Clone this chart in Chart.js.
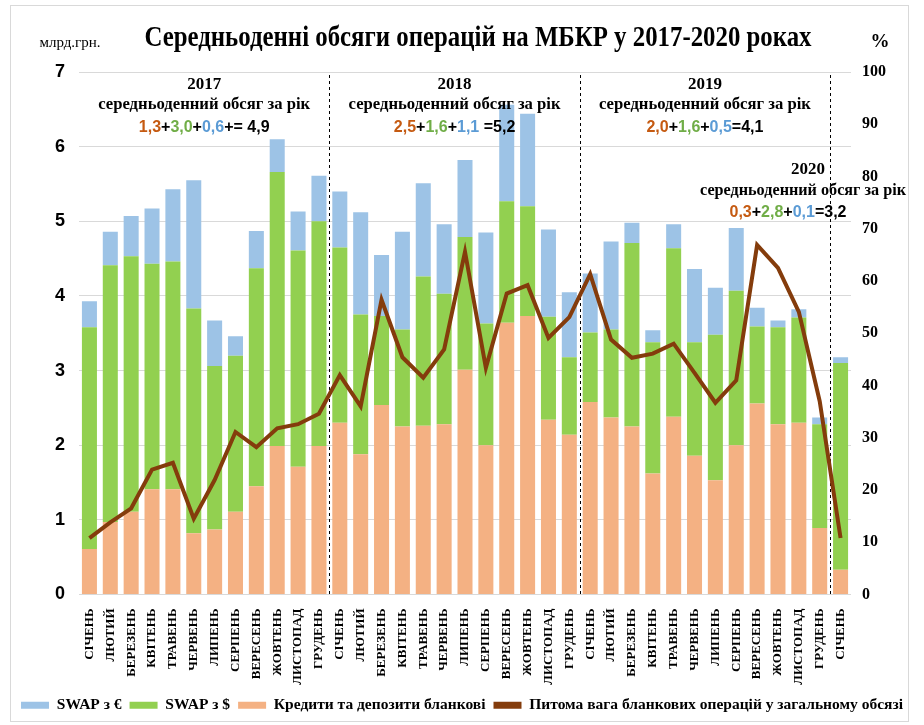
<!DOCTYPE html>
<html>
<head>
<meta charset="utf-8">
<script src="https://cdn.jsdelivr.net/npm/chart.js@4.4.1/dist/chart.umd.min.js"></script>
<style>
  html, body { margin: 0; padding: 0; background: #fff; }
  #wrap { width: 924px; height: 725px; }
</style>
</head>
<body>
<div id="wrap"><canvas id="myChart" width="924" height="725"></canvas></div>
<script>
// місяці (підписи осі X)
var monthNames = ['СІЧЕНЬ','ЛЮТИЙ','БЕРЕЗЕНЬ','КВІТЕНЬ','ТРАВЕНЬ','ЧЕРВЕНЬ','ЛИПЕНЬ','СЕРПЕНЬ','ВЕРЕСЕНЬ','ЖОВТЕНЬ','ЛИСТОПАД','ГРУДЕНЬ'];
var labels = monthNames.concat(monthNames, monthNames, [monthNames[0]]);

// млрд.грн., 2017.01 - 2020.01
var credits = [0.61,0.97,1.11,1.41,1.41,0.82,0.87,1.11,1.45,1.99,1.71,1.99,
               2.30,1.88,2.54,2.25,2.26,2.28,3.01,2.00,3.64,3.73,2.34,2.14,
               2.58,2.37,2.25,1.62,2.38,1.86,1.53,2.00,2.56,2.28,2.30,0.89,
               0.33];
var swapUsd = [2.97,3.44,3.42,3.02,3.05,3.01,2.19,2.09,2.92,3.67,2.90,3.01,
               2.35,1.87,1.19,1.30,2.00,1.75,1.78,1.63,1.63,1.47,1.38,1.04,
               0.93,1.18,2.46,1.76,2.26,1.52,1.95,2.07,1.03,1.30,1.41,1.39,
               2.77];
var swapEur = [0.35,0.45,0.54,0.74,0.97,1.72,0.61,0.26,0.50,0.44,0.52,0.61,
               0.75,1.37,0.82,1.31,1.25,0.93,1.03,1.22,1.29,1.24,1.17,0.87,
               0.79,1.18,0.27,0.16,0.32,0.98,0.63,0.84,0.25,0.09,0.11,0.09,
               0.08];
// %
var shareBlank = [10.8,13.8,16.5,23.9,25.2,14.5,21.9,31.1,28.2,31.8,32.6,34.6,
                  42.0,36.0,56.4,45.4,41.5,46.9,65.6,43.4,57.6,59.2,49.1,53.1,
                  61.3,48.8,45.3,46.1,48.0,42.4,36.7,41.0,66.9,62.5,54.1,37.0,
                  10.8];

// підсумки за рік
var yearNotes = [
  { year: '2017', idx: 5.5, parts: [['1,3','#C55A11'],['+','#000'],['3,0','#70AD47'],['+','#000'],['0,6','#5B9BD5'],['+= 4,9','#000']] },
  { year: '2018', idx: 17.7, parts: [['2,5','#C55A11'],['+','#000'],['1,6','#70AD47'],['+','#000'],['1,1','#5B9BD5'],[' =5,2','#000']] },
  { year: '2019', idx: 29.6, parts: [['2,0','#C55A11'],['+','#000'],['1,6','#70AD47'],['+','#000'],['0,5','#5B9BD5'],['=4,1','#000']] }
];
var note2020 = { year: '2020', parts: [['0,3','#C55A11'],['+','#000'],['2,8','#70AD47'],['+','#000'],['0,1','#5B9BD5'],['=3,2','#000']] };
var yearBreaks = [11.5, 23.5, 35.5];

var SERIF = '"Liberation Serif", "Times New Roman", serif';
var SANS = '"Liberation Sans", Arial, sans-serif';

function drawParts(ctx, parts, cx, y) {
  ctx.font = 'bold 16px ' + SANS;
  var total = 0;
  parts.forEach(function(p) { total += ctx.measureText(p[0]).width; });
  var x = cx - total / 2;
  ctx.textAlign = 'left';
  parts.forEach(function(p) {
    ctx.fillStyle = p[1];
    ctx.fillText(p[0], x, y);
    x += ctx.measureText(p[0]).width;
  });
}

var extras = {
  id: 'extras',
  beforeDatasetsDraw: function(chart) {
    var ctx = chart.ctx, xs = chart.scales.x, area = chart.chartArea;
    ctx.save();
    ctx.strokeStyle = '#000';
    ctx.lineWidth = 1;
    ctx.setLineDash([3, 3]);
    yearBreaks.forEach(function(b) {
      var x = Math.round((xs.getPixelForValue(Math.floor(b)) + xs.getPixelForValue(Math.ceil(b))) / 2) + 0.5;
      ctx.beginPath();
      ctx.moveTo(x, area.top + 3);
      ctx.lineTo(x, area.bottom);
      ctx.stroke();
    });
    ctx.restore();
  },
  afterDraw: function(chart) {
    var ctx = chart.ctx, xs = chart.scales.x;
    ctx.save();
    // рамка
    ctx.strokeStyle = '#d9d9d9';
    ctx.lineWidth = 1;
    ctx.strokeRect(10.5, 5.5, 898, 716);

    ctx.textBaseline = 'middle';
    ctx.fillStyle = '#000';
    ctx.textAlign = 'center';
    ctx.font = 'bold 30px ' + SERIF;
    ctx.fillText('Середньоденні обсяги операцій на МБКР у 2017-2020 роках', 478, 38, 667);
    ctx.font = '15px ' + SERIF;
    ctx.fillText('млрд.грн.', 70, 43, 70);
    ctx.font = 'bold 19px ' + SERIF;
    ctx.fillText('%', 880, 42);

    yearNotes.forEach(function(n) {
      var cx = (xs.getPixelForValue(Math.floor(n.idx)) + xs.getPixelForValue(Math.ceil(n.idx))) / 2;
      ctx.fillStyle = '#000';
      ctx.textAlign = 'center';
      ctx.font = 'bold 17px ' + SERIF;
      ctx.fillText(n.year, cx, 85);
      ctx.fillText('середньоденний обсяг за рік', cx, 105, 212);
      drawParts(ctx, n.parts, cx, 128);
    });
    ctx.fillStyle = '#000';
    ctx.textAlign = 'center';
    ctx.font = 'bold 17px ' + SERIF;
    ctx.fillText(note2020.year, 808, 170);
    ctx.fillText('середньоденний обсяг за рік', 803, 191, 206);
    drawParts(ctx, note2020.parts, 788, 213);
    ctx.restore();
  }
};

var legendRank = [2, 1, 0, 3];

var ctx = document.getElementById('myChart');
var myChart = new Chart(ctx, {
  type: 'bar',
  data: {
    labels: labels,
    datasets: [
      {
        label: 'Кредити та депозити бланкові',
        data: credits,
        backgroundColor: '#F4B183',
        stack: 's',
        barPercentage: 0.72,
        categoryPercentage: 1
      },{
        label: 'SWAP з $',
        data: swapUsd,
        backgroundColor: '#92D050',
        stack: 's',
        barPercentage: 0.72,
        categoryPercentage: 1
      },{
        label: 'SWAP з €',
        data: swapEur,
        backgroundColor: '#9DC3E6',
        stack: 's',
        barPercentage: 0.72,
        categoryPercentage: 1
      },{
        type: 'line',
        label: 'Питома вага бланкових операцій у загальному обсязі',
        data: shareBlank,
        yAxisID: 'y1',
        borderColor: '#843C0C',
        backgroundColor: '#843C0C',
        borderWidth: 4,
        pointRadius: 0,
        tension: 0,
        order: -1
      }
    ]
  },
  options: {
    responsive: false,
    animation: false,
    layout: { padding: { top: 72, left: 0, right: 0, bottom: 2 } },
    plugins: {
      tooltip: { enabled: false },
      title: { display: false },
      legend: {
        position: 'bottom',
        labels: {
          color: '#000',
          font: { family: SERIF, size: 15.5, weight: 'bold' },
          boxWidth: 28,
          boxHeight: 7,
          padding: 8,
          sort: function(a, b) { return legendRank[a.datasetIndex] - legendRank[b.datasetIndex]; },
          generateLabels: function(chart) {
            var items = Chart.defaults.plugins.legend.labels.generateLabels(chart);
            items.forEach(function(it) { it.lineWidth = 0; it.strokeStyle = 'rgba(0,0,0,0)'; });
            return items;
          }
        }
      }
    },
    scales: {
      x: {
        stacked: true,
        grid: { display: false },
        border: { display: false },
        ticks: {
          autoSkip: false,
          maxRotation: 90,
          minRotation: 90,
          padding: 6,
          color: '#000',
          font: { family: SERIF, size: 13, weight: 'bold' }
        },
        afterFit: function(scale) { scale.height = 95; }
      },
      y: {
        stacked: true,
        min: 0,
        max: 7,
        position: 'left',
        grid: { color: '#d9d9d9', drawTicks: false },
        border: { display: false },
        ticks: {
          stepSize: 1,
          padding: 14,
          color: '#000',
          font: { family: SANS, size: 18, weight: 'bold' }
        },
        afterFit: function(scale) { scale.width = 79; }
      },
      y1: {
        min: 0,
        max: 100,
        position: 'right',
        grid: { display: false },
        border: { display: false },
        ticks: {
          stepSize: 10,
          padding: 3,
          color: '#000',
          font: { family: SERIF, size: 16, weight: 'bold' }
        },
        afterFit: function(scale) { scale.width = 73; }
      }
    }
  },
  plugins: [extras]
});
</script>
</body>
</html>
